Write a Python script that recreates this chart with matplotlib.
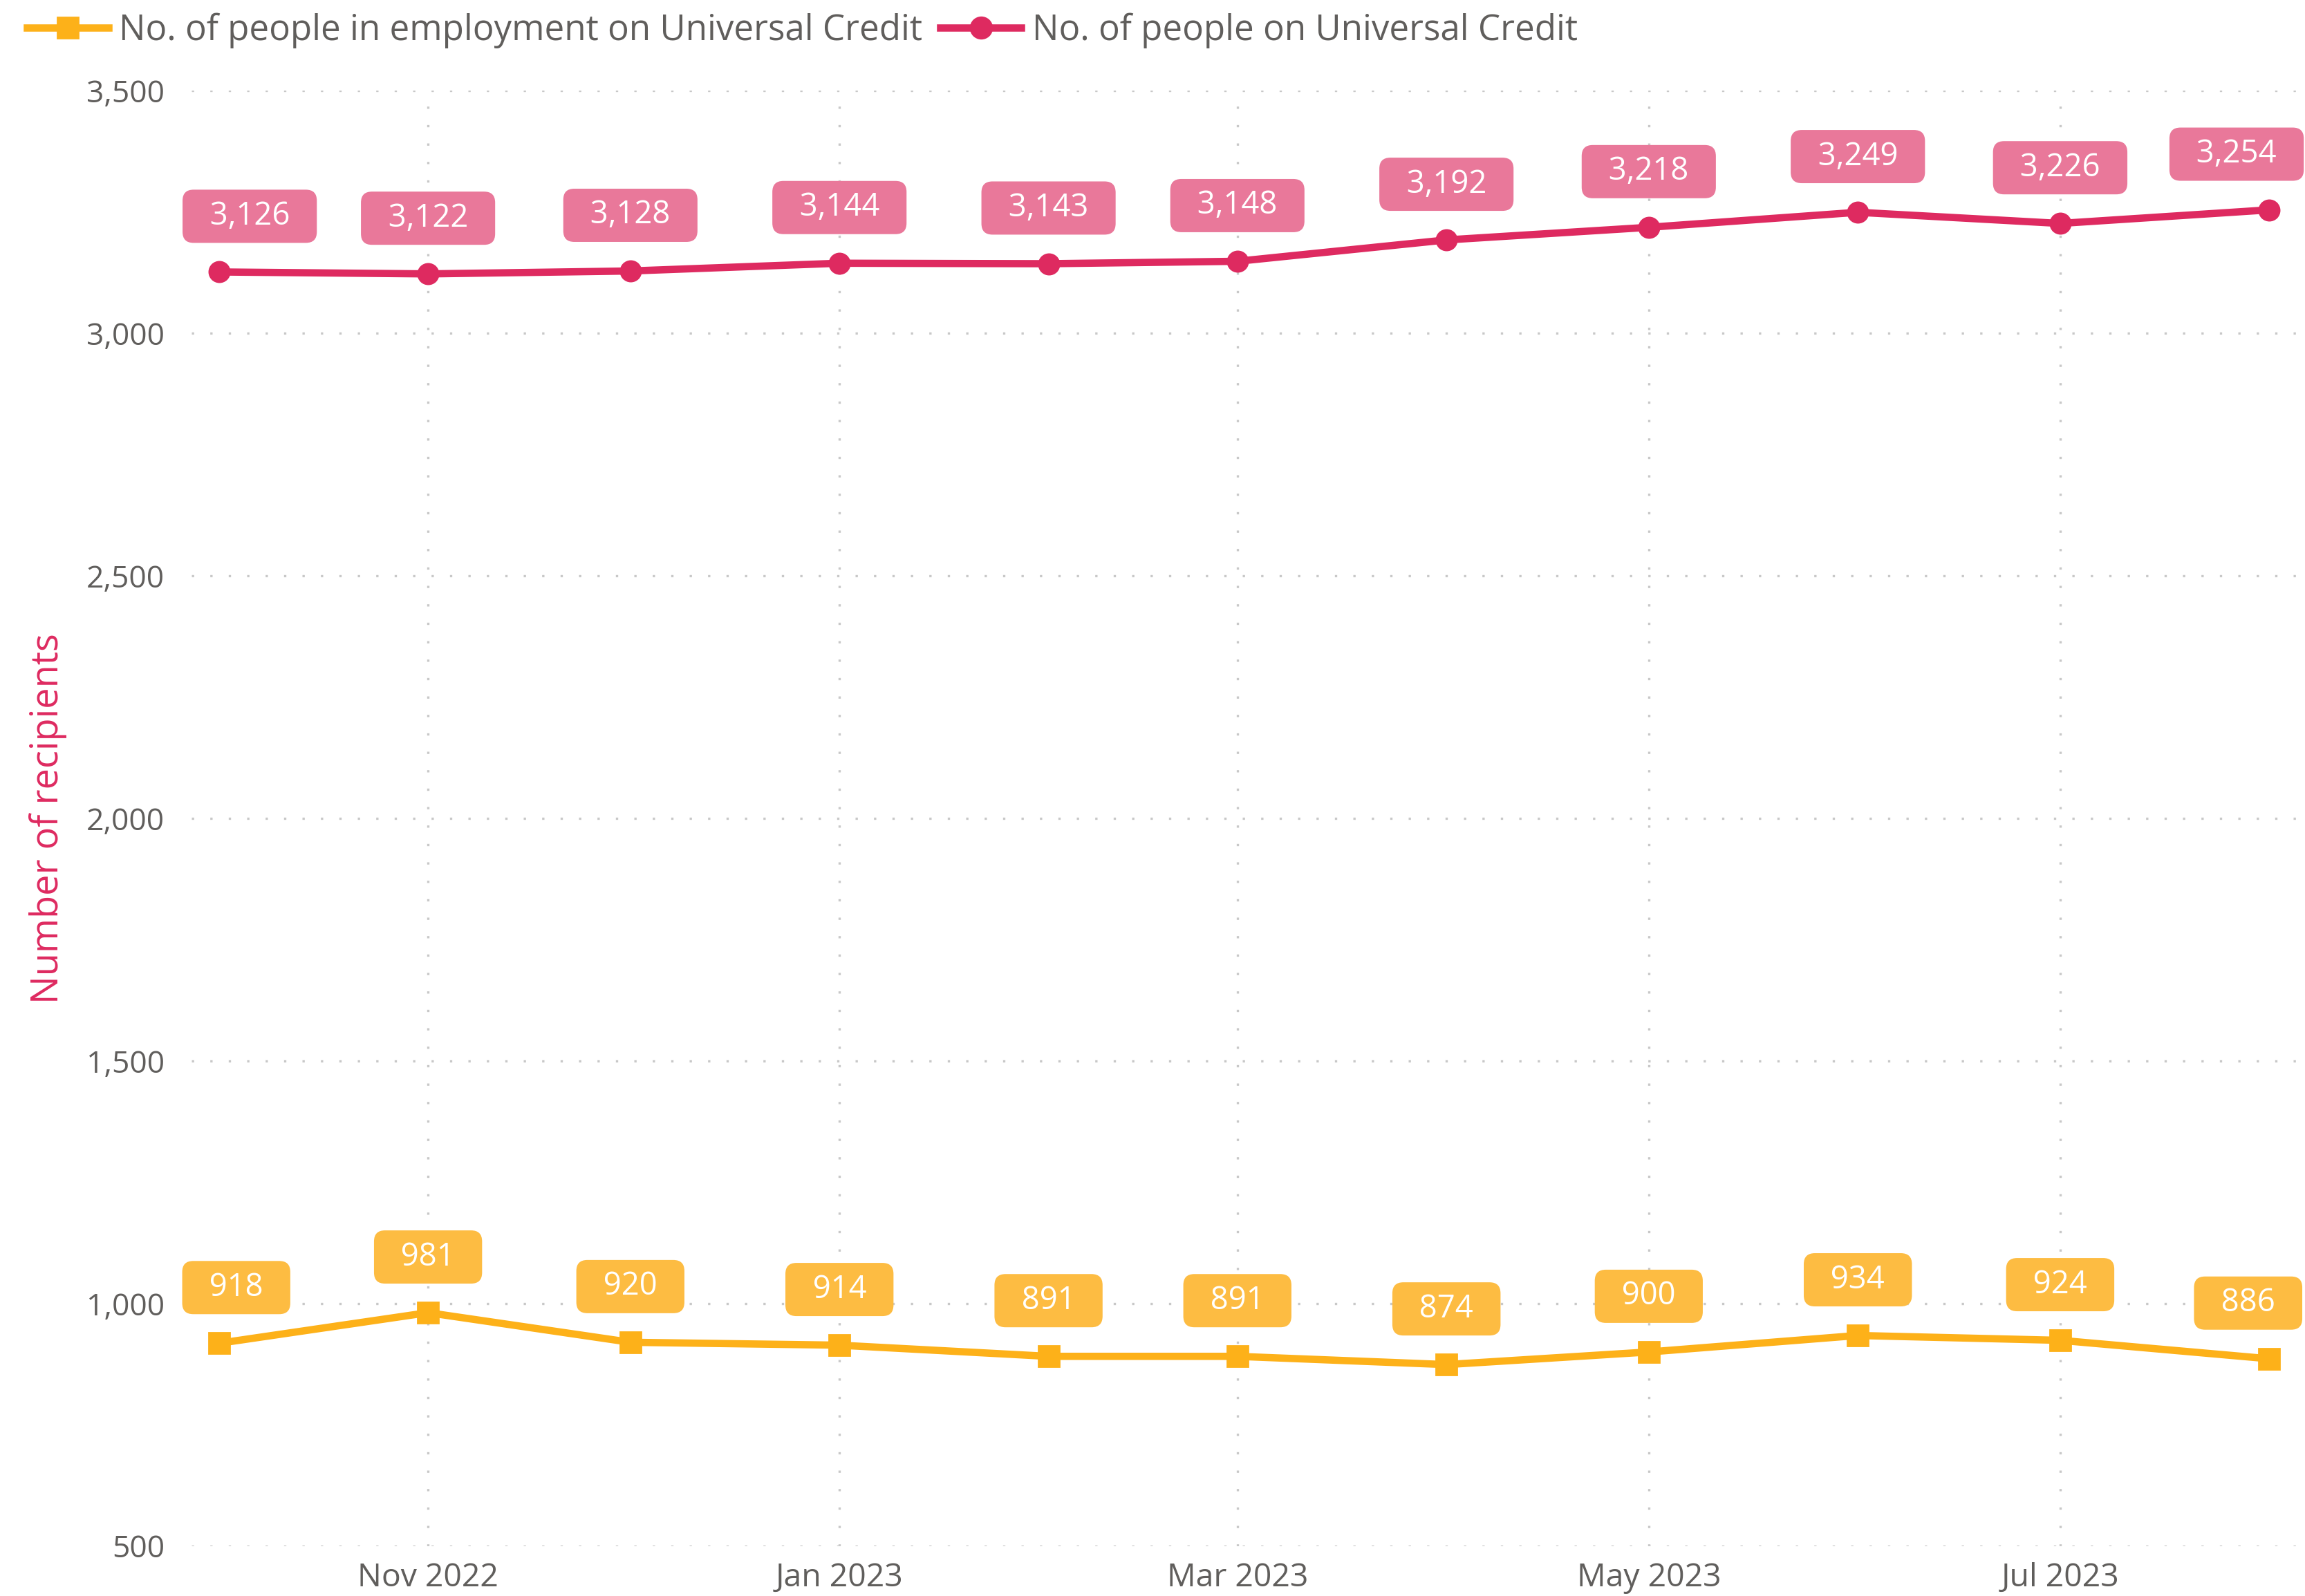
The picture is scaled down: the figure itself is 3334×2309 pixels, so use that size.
import matplotlib
matplotlib.use('Agg')
import matplotlib.pyplot as plt
import matplotlib.dates as mdates
import numpy as np
import pandas as pd
from matplotlib.lines import Line2D

plt.rcParams['font.family'] = ['Open Sans', 'DejaVu Sans']

months = pd.date_range('2022-10-01', '2023-08-01', freq='MS')
on_uc = [3126, 3122, 3128, 3144, 3143, 3148, 3192, 3218, 3249, 3226, 3254]
in_work = [918, 981, 920, 914, 891, 891, 874, 900, 934, 924, 886]

tick_dates = pd.to_datetime(['2022-11-01', '2023-01-01', '2023-03-01', '2023-05-01', '2023-07-01'])
tick_labels = ['Nov 2022', 'Jan 2023', 'Mar 2023', 'May 2023', 'Jul 2023']
y_ticks = [500, 1000, 1500, 2000, 2500, 3000, 3500]

pink = '#DE2A60'
pink_box = '#E9789A'
yellow = '#FDB119'
yellow_box = '#FDBC42'
grey = '#605E5C'
grid_col = '#C8C8C8'

fig = plt.figure(figsize=(16.67, 11.545), dpi=200)
ax = fig.add_axes([0.083, 0.0313, 0.917, 0.912])

ax.plot(months, in_work, color=yellow, lw=3.8, marker='s', ms=10.5, zorder=3, clip_on=False)
ax.plot(months, on_uc, color=pink, lw=3.8, marker='o', ms=10.5, zorder=3, clip_on=False)


def add_labels(values, box_col, first_dx, last_dx):
    n = len(values)
    for i, (d, v) in enumerate(zip(months, values)):
        dx = 0
        if i == 0:
            dx = first_dx
        elif i == n - 1:
            dx = last_dx
        ax.annotate('  {:,}  '.format(v), (d, v), xytext=(dx, 29), textcoords='offset points',
                    ha='center', va='center', color='white', fontsize=16.4,
                    bbox=dict(boxstyle='round,pad=0.34,rounding_size=0.35', fc=box_col, ec='none'),
                    annotation_clip=False, zorder=4)


add_labels(on_uc, pink_box, 16, -17)
add_labels(in_work, yellow_box, 9, -11)

ax.set_xlim(months[0] - pd.Timedelta(days=4.1), months[-1] + pd.Timedelta(days=5.3))
ax.set_ylim(500, 3500)
ax.set_xticks(tick_dates)
ax.set_xticklabels(tick_labels)
ax.set_yticks(y_ticks)
ax.set_yticklabels(['{:,}'.format(t) for t in y_ticks])
ax.tick_params(axis='both', length=0, labelcolor=grey)
ax.tick_params(axis='x', labelsize=16.7, pad=8.5)
ax.tick_params(axis='y', labelsize=16, pad=14)

ax.grid(True, axis='both', color=grid_col, lw=1.2, linestyle=(0, (1, 7)))
ax.set_axisbelow(True)
for s in ax.spines.values():
    s.set_visible(False)

ax.set_ylabel('Number of recipients', color=pink, fontsize=19.5, labelpad=10)

handles = [
    Line2D([0], [0], color=yellow, lw=3.8, marker='s', ms=11),
    Line2D([0], [0], color=pink, lw=3.8, marker='o', ms=11),
]
fig.legend(handles, ['No. of people in employment on Universal Credit', 'No. of people on Universal Credit'],
           loc='center left', bbox_to_anchor=(-0.002, 0.981), ncol=2, frameon=False,
           fontsize=18.4, labelcolor=grey, handlelength=2.3, handletextpad=0.3, columnspacing=0.5)

fig.savefig('out.png', dpi=200)
